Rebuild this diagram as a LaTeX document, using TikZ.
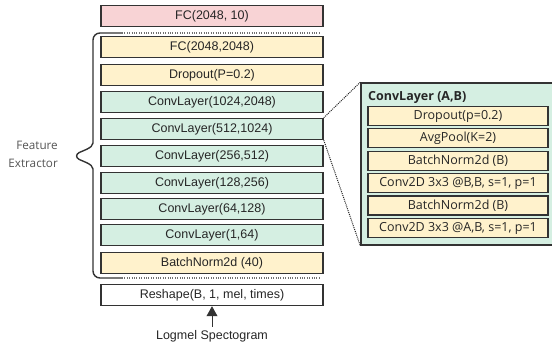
\documentclass[tikz,border=0pt]{standalone}
\usepackage{fontspec}
\setmainfont{Liberation Sans}
\newfontfamily\opensans{Open Sans}
\usetikzlibrary{positioning,arrows.meta,calc}

\definecolor{fcred}{HTML}{F8D3D5}
\definecolor{fcyellow}{HTML}{FFF2CC}
\definecolor{convgreen}{HTML}{D5EFE2}
\definecolor{edgegray}{HTML}{333333}
\definecolor{labelgray}{HTML}{555555}

\tikzset{
  layer/.style={draw=edgegray, line width=1.5pt, rectangle, minimum width=222pt, minimum height=21pt, inner sep=0pt, text=black!85, font=\fontsize{12.5}{14}\selectfont},
  sublayer/.style={draw=edgegray, line width=1.2pt, rectangle, fill=fcyellow, minimum width=180pt, minimum height=19pt, inner sep=0pt, text=black!85, font=\opensans\fontsize{12.5}{14}\selectfont},
  sep/.style={edgegray!70, line width=1.2pt, dash pattern=on 1pt off 1.4pt},
}

\begin{document}
\begin{tikzpicture}[x=1pt, y=-1pt]
    \useasboundingbox (0,0) rectangle (552,347);

    % network stack
    \node[layer, fill=fcred] (fc10) at (212,16) {FC(2048, 10)};
    \node[layer, fill=fcyellow] (fc2048) at (212,47) {FC(2048,2048)};
    \node[layer, fill=fcyellow] (drop) at (212,75) {Dropout(P=0.2)};
    \node[layer, fill=convgreen] (c1024) at (212,102) {ConvLayer(1024,2048)};
    \node[layer, fill=convgreen] (c512) at (212,129) {ConvLayer(512,1024)};
    \node[layer, fill=convgreen] (c256) at (212,156) {ConvLayer(256,512)};
    \node[layer, fill=convgreen] (c128) at (212,183) {ConvLayer(128,256)};
    \node[layer, fill=convgreen] (c64) at (212,209) {ConvLayer(64,128)};
    \node[layer, fill=convgreen] (c1) at (212,235) {ConvLayer(1,64)};
    \node[layer, fill=fcyellow] (bn) at (212,263) {BatchNorm2d (40)};
    \node[layer, fill=white] (reshape) at (212,295) {Reshape(B, 1, mel, times)};

    \node[text=black!85, font=\fontsize{12.5}{14}\selectfont] (input) at (212,336) {Logmel Spectogram};
    \draw[-{Triangle[length=10pt,width=11pt]}, line width=0.7pt, black!80] (input.north) -- (reshape.south);

    % brace round the feature extractor
    \coordinate (btop) at (122,33);
    \coordinate (bbot) at (122,278);
    \draw[edgegray, line width=1.4pt, rounded corners=7pt]
        (btop) -- (93,33) -- (93,136)
        .. controls (93,148) and (82,151) .. (73,156)
        .. controls (82,161) and (93,164) .. (93,176)
        -- (93,278) -- (bbot);
    \draw[sep] (btop) -- (319,33);
    \draw[sep] (bbot) -- (319,278);
    \node[anchor=east, align=right, text=labelgray, inner sep=0pt,
          font=\opensans\fontsize{11.7}{18}\selectfont] (fe) at (58,154) {Feature\\Extractor};

    % detail of one conv layer
    \node[draw=edgegray, line width=1.5pt, fill=convgreen, rectangle, minimum width=194pt, minimum height=162pt, inner sep=0pt] (panel) at (458,164) {};
    \node[anchor=west, inner sep=0pt, text=black!85, font=\opensans\bfseries\fontsize{12.5}{14}\selectfont] (title) at (368,97) {ConvLayer (A,B)};
    \node[sublayer] (sdrop) at (458,116) {Dropout(p=0.2)};
    \node[sublayer] (spool) at (458,138.4) {AvgPool(K=2)};
    \node[sublayer] (sbn2) at (458,160.8) {BatchNorm2d (B)};
    \node[sublayer] (sconv2) at (458,183.2) {Conv2D 3x3 @B,B, s=1, p=1};
    \node[sublayer] (sbn1) at (458,205.6) {BatchNorm2d (B)};
    \node[sublayer] (sconv1) at (458,228) {Conv2D 3x3 @A,B, s=1, p=1};

    \draw[black!85, line width=1pt, dash pattern=on 1pt off 1pt] (c512.north east) -- (panel.north west);
    \draw[black!85, line width=1pt, dash pattern=on 1pt off 1pt] (c512.south east) -- (panel.south west);
\end{tikzpicture}
\end{document}
